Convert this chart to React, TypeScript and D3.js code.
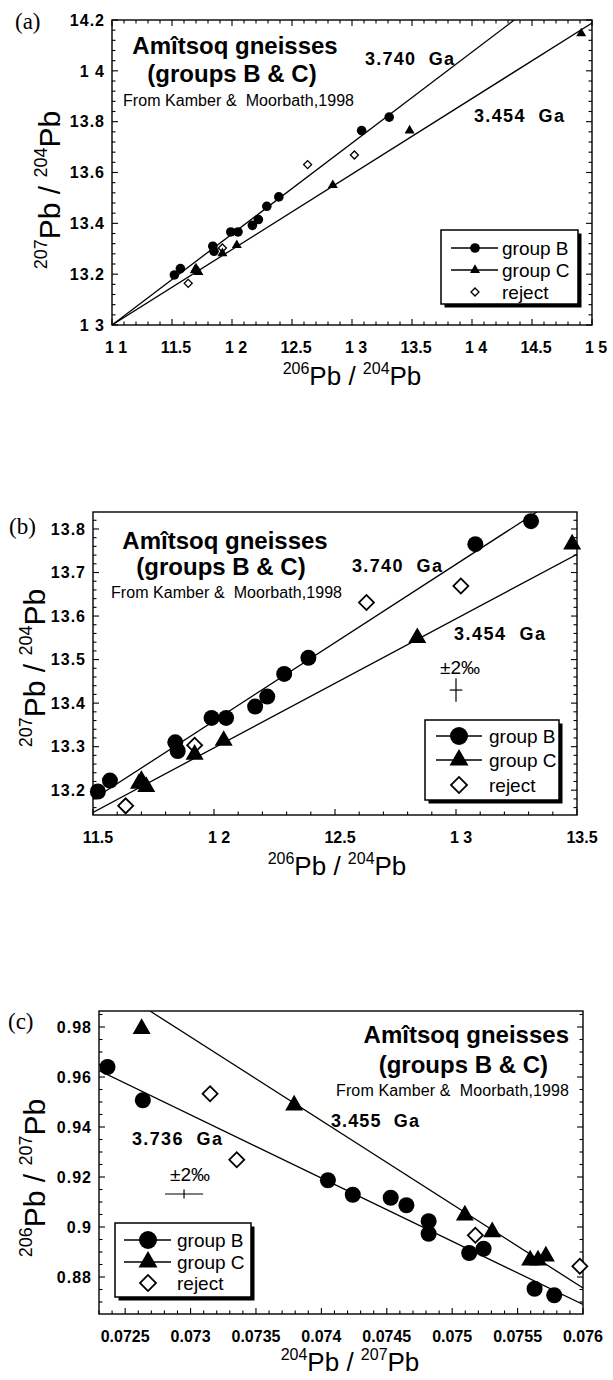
import React from "react";
import * as d3 from "d3";

type Pt = [number, number];

// ================= DATA =================
// Panels (a) and (b): 206Pb/204Pb (x) vs 207Pb/204Pb (y)
const groupBx = [11.52, 11.57, 11.84, 11.85, 11.99, 12.05, 12.17, 12.22, 12.29, 12.39, 13.08, 13.31];
const groupBy = [13.197, 13.222, 13.31, 13.29, 13.366, 13.366, 13.392, 13.415, 13.467, 13.504, 13.765, 13.818];
const groupCx = [11.69, 11.72, 11.7, 11.92, 12.04, 12.84, 13.48, 14.91];
const groupCy = [13.215, 13.208, 13.222, 13.282, 13.314, 13.55, 13.765, 14.147];
const rejectx = [11.635, 11.92, 12.63, 13.02];
const rejecty = [13.164, 13.303, 13.631, 13.669];

// Panel (c): 204Pb/207Pb (x) vs 206Pb/207Pb (y)
const cGroupBx = [0.072365, 0.072635, 0.07405, 0.07424, 0.07453, 0.07465, 0.07482, 0.07482, 0.07513, 0.07524, 0.07563, 0.07578];
const cGroupBy = [0.964, 0.9507, 0.9187, 0.9129, 0.9117, 0.9087, 0.9023, 0.8973, 0.8896, 0.8913, 0.8753, 0.8727];
const cGroupCx = [0.072626, 0.073792, 0.075097, 0.075306, 0.075596, 0.075656, 0.075716];
const cGroupCy = [0.9793, 0.9487, 0.9047, 0.898, 0.8867, 0.8867, 0.8883];
const cRejectx = [0.073149, 0.073353, 0.075177, 0.075976];
const cRejecty = [0.9533, 0.9269, 0.8967, 0.8843];

// Isochron end points (data units)
const isoA_B: Pt[] = [[11.0, 13.0], [14.352, 14.2]];
const isoA_C: Pt[] = [[11.0, 13.0], [15.0, 14.188]];
const isoB_B: Pt[] = [[11.5, 13.179], [13.334, 13.839]];
const isoB_C: Pt[] = [[11.5, 13.149], [13.5, 13.742]];
const isoC_B: Pt[] = [[0.0723, 0.9626], [0.076, 0.869]];
const isoC_C: Pt[] = [[0.07269, 0.9864], [0.076, 0.8756]];

// Error crosses (±2 per mil)
const errRel = 0.002;
const errCenterB: Pt = [13.0, 13.43];
const errCenterC: Pt = [0.07295, 0.9132];

// Axis ticks and labels
const aXTicks = [11, 11.5, 12, 12.5, 13, 13.5, 14, 14.5, 15];
const aXLabels = ["1 1", "11.5", "1 2", "12.5", "1 3", "13.5", "1 4", "14.5", "1 5"];
const aYTicks = [13, 13.2, 13.4, 13.6, 13.8, 14, 14.2];
const aYLabels = ["1 3", "13.2", "13.4", "13.6", "13.8", "1 4", "14.2"];
const bXTicks = [11.5, 12, 12.5, 13, 13.5];
const bXLabels = ["11.5", "1 2", "12.5", "1 3", "13.5"];
const bYTicks = [13.2, 13.3, 13.4, 13.5, 13.6, 13.7, 13.8];
const bYLabels = ["13.2", "13.3", "13.4", "13.5", "13.6", "13.7", "13.8"];
const cXTicks = [0.0725, 0.073, 0.0735, 0.074, 0.0745, 0.075, 0.0755, 0.076];
const cXLabels = ["0.0725", "0.073", "0.0735", "0.074", "0.0745", "0.075", "0.0755", "0.076"];
const cYTicks = [0.88, 0.9, 0.92, 0.94, 0.96, 0.98];
const cYLabels = ["0.88", "0.9", "0.92", "0.94", "0.96", "0.98"];

const legendLabels = ["group B", "group C", "reject"];
const titleLine1 = "Amîtsoq gneisses";
const titleLine2 = "(groups B & C)";
const sourceText = "From Kamber &  Moorbath,1998";

// ================= DRAWING =================
const SANS = "'Liberation Sans', Arial, Helvetica, sans-serif";
const SERIF = "'Liberation Serif', 'Times New Roman', serif";

const zip = (xs: number[], ys: number[]): Pt[] => xs.map((v, i) => [v, ys[i]]);

function tri(cx: number, cy: number, side: number) {
  const area = (side * side * Math.sqrt(3)) / 4;
  return <path d={d3.symbol(d3.symbolTriangle, area)() || ""} transform={`translate(${cx},${cy})`} fill="#000" />;
}
function dia(cx: number, cy: number, half: number, sw: number) {
  const area = 2 * half * half;
  return (
    <path
      d={d3.symbol(d3.symbolSquare, area)() || ""}
      transform={`translate(${cx},${cy}) rotate(45)`}
      fill="#fff"
      stroke="#000"
      strokeWidth={sw}
    />
  );
}

interface TextItem { t: string; x: number; y: number; anchor?: string; size: number; bold?: boolean; len?: number }

interface Cfg {
  id: string;
  tag: string; tagX: number; tagY: number;
  left: number; right: number; top: number; bottom: number;
  xDomain: [number, number]; yDomain: [number, number];
  xTicks: number[]; xLabels: string[]; yTicks: number[]; yLabels: string[];
  xMinor: number; yMinor: number; labelDx: number; topTicks: boolean;
  B: Pt[]; C: Pt[]; R: Pt[]; isoB: Pt[]; isoC: Pt[];
  r: number; side: number; half: number; dsw: number;
  leg: { x: number; y: number; w: number; h: number; mx: number; tx: number; l1: number; l2: number; rows: number[]; r: number; side: number; half: number; dsw: number };
  texts: TextItem[];
  err?: { c: Pt; label: TextItem };
  xTitle: { x: number; y: number; sup1: string; sup2: string };
  yTitle: { x: number; y: number; sup1: string; sup2: string };
}

function AxisTitle({ x, y, sup1, sup2, rotate, big, small }: { x: number; y: number; sup1: string; sup2: string; rotate?: boolean; big: number; small: number }) {
  const rise = Math.round(big * 0.42);
  return (
    <text
      transform={rotate ? `translate(${x},${y}) rotate(-90)` : `translate(${x},${y})`}
      textAnchor="middle"
      fontFamily={SANS}
      fill="#000"
      style={{ whiteSpace: "pre" }}
    >
      <tspan fontSize={small} dy={-rise}>{sup1}</tspan>
      <tspan fontSize={big} dy={rise}>{"Pb / "}</tspan>
      <tspan fontSize={small} dy={-rise}>{sup2}</tspan>
      <tspan fontSize={big} dy={rise}>{"Pb"}</tspan>
    </text>
  );
}

function Panel({ c }: { c: Cfg }) {
  const x = d3.scaleLinear().domain(c.xDomain).range([c.left, c.right]);
  const y = d3.scaleLinear().domain(c.yDomain).range([c.bottom, c.top]);
  const line = d3.line<Pt>().x((d) => x(d[0])).y((d) => y(d[1]));
  const inX = (v: number) => v >= c.xDomain[0] - 1e-9 && v <= c.xDomain[1] + 1e-9;
  const inY = (v: number) => v >= c.yDomain[0] - 1e-9 && v <= c.yDomain[1] + 1e-9;
  const minorX = d3.range(Math.ceil(c.xDomain[0] / c.xMinor - 1e-6), Math.floor(c.xDomain[1] / c.xMinor + 1e-6) + 1).map((k) => k * c.xMinor);
  const minorY = d3.range(Math.ceil(c.yDomain[0] / c.yMinor - 1e-6), Math.floor(c.yDomain[1] / c.yMinor + 1e-6) + 1).map((k) => k * c.yMinor);
  const isMajor = (v: number, arr: number[], step: number) => arr.some((t) => Math.abs(t - v) < step * 0.1);
  const MAJ = 6, MIN = 3.5;
  const clipId = `clip-${c.id}`;
  const L = c.leg;
  return (
    <g>
      <defs>
        <clipPath id={clipId}>
          <rect x={c.left} y={c.top} width={c.right - c.left} height={c.bottom - c.top} />
        </clipPath>
      </defs>
      {/* tag */}
      <text x={c.tagX} y={c.tagY} fontFamily={SERIF} fontSize={23} fill="#000">{c.tag}</text>
      {/* frame */}
      <rect x={c.left} y={c.top} width={c.right - c.left} height={c.bottom - c.top} fill="none" stroke="#000" strokeWidth={1.4} />
      {/* ticks */}
      {minorX.map((v, i) => {
        const len = isMajor(v, c.xTicks, c.xMinor) ? MAJ : MIN;
        const px = x(v);
        return (
          <g key={"tx" + i}>
            <line x1={px} x2={px} y1={c.bottom} y2={c.bottom - len} stroke="#000" strokeWidth={1.1} />
            {c.topTicks && <line x1={px} x2={px} y1={c.top} y2={c.top + len} stroke="#000" strokeWidth={1.1} />}
          </g>
        );
      })}
      {minorY.map((v, i) => {
        const len = isMajor(v, c.yTicks, c.yMinor) ? MAJ : MIN;
        const py = y(v);
        return (
          <g key={"ty" + i}>
            <line x1={c.left} x2={c.left + len} y1={py} y2={py} stroke="#000" strokeWidth={1.1} />
            <line x1={c.right} x2={c.right - len} y1={py} y2={py} stroke="#000" strokeWidth={1.1} />
          </g>
        );
      })}
      {/* tick labels */}
      {c.xTicks.map((v, i) => (
        <text key={"lx" + i} x={x(v) + c.labelDx} y={c.bottom + 28} textAnchor="middle" fontFamily={SANS} fontWeight="bold" fontSize={16} fill="#000" style={{ whiteSpace: "pre" }}>
          {c.xLabels[i]}
        </text>
      ))}
      {c.yTicks.map((v, i) => (
        <text key={"ly" + i} x={c.left - 7} y={y(v)} dy="0.36em" textAnchor="end" fontFamily={SANS} fontWeight="bold" fontSize={16} letterSpacing={1} fill="#000" style={{ whiteSpace: "pre" }}>
          {c.yLabels[i]}
        </text>
      ))}
      {/* axis titles */}
      <AxisTitle x={c.xTitle.x} y={c.xTitle.y} sup1={c.xTitle.sup1} sup2={c.xTitle.sup2} big={26} small={16} />
      <AxisTitle x={c.yTitle.x} y={c.yTitle.y} sup1={c.yTitle.sup1} sup2={c.yTitle.sup2} rotate big={30} small={18} />
      {/* isochrons */}
      <g clipPath={`url(#${clipId})`}>
        <path d={line(c.isoB) || ""} fill="none" stroke="#000" strokeWidth={1.3} />
        <path d={line(c.isoC) || ""} fill="none" stroke="#000" strokeWidth={1.3} />
      </g>
      {/* texts */}
      {c.texts.map((t, i) => (
        <text
          key={"t" + i}
          x={t.x}
          y={t.y}
          textAnchor={t.anchor || "start"}
          fontFamily={SANS}
          fontWeight={t.bold ? "bold" : "normal"}
          fontSize={t.size}
          fill="#000"
          style={{ whiteSpace: "pre" }}
          {...(t.len ? { textLength: t.len, lengthAdjust: "spacing" } : {})}
        >
          {t.t}
        </text>
      ))}
      {/* error cross */}
      {c.err && (
        <g>
          <line x1={x(c.err.c[0] * (1 - errRel))} x2={x(c.err.c[0] * (1 + errRel))} y1={y(c.err.c[1])} y2={y(c.err.c[1])} stroke="#000" strokeWidth={1.2} />
          <line x1={x(c.err.c[0])} x2={x(c.err.c[0])} y1={y(c.err.c[1] * (1 - errRel))} y2={y(c.err.c[1] * (1 + errRel))} stroke="#000" strokeWidth={1.2} />
          <text x={c.err.label.x} y={c.err.label.y} textAnchor="middle" fontFamily={SANS} fontSize={c.err.label.size} fill="#000">
            {c.err.label.t}
          </text>
        </g>
      )}
      {/* points */}
      <g>
        {c.R.filter((d) => inX(d[0]) && inY(d[1])).map((d, i) => <g key={"r" + i}>{dia(x(d[0]), y(d[1]), c.half, c.dsw)}</g>)}
        {c.B.filter((d) => inX(d[0]) && inY(d[1])).map((d, i) => <circle key={"b" + i} cx={x(d[0])} cy={y(d[1])} r={c.r} fill="#000" />)}
        {c.C.filter((d) => inX(d[0]) && inY(d[1])).map((d, i) => <g key={"c" + i}>{tri(x(d[0]), y(d[1]), c.side)}</g>)}
      </g>
      {/* legend */}
      <g>
        <rect x={L.x + 3.5} y={L.y + 3.5} width={L.w} height={L.h} fill="#000" />
        <rect x={L.x} y={L.y} width={L.w} height={L.h} fill="#fff" stroke="#000" strokeWidth={1.5} />
        <line x1={L.l1} x2={L.l2} y1={L.rows[0]} y2={L.rows[0]} stroke="#000" strokeWidth={1.3} />
        <circle cx={L.mx} cy={L.rows[0]} r={L.r} fill="#000" />
        <line x1={L.l1} x2={L.l2} y1={L.rows[1]} y2={L.rows[1]} stroke="#000" strokeWidth={1.3} />
        {tri(L.mx, L.rows[1], L.side)}
        {dia(L.mx, L.rows[2], L.half, L.dsw)}
        {legendLabels.map((s, i) => (
          <text key={"lg" + i} x={L.tx} y={L.rows[i] + 7} fontFamily={SANS} fontSize={19} fill="#000">
            {s}
          </text>
        ))}
      </g>
    </g>
  );
}

const panelA: Cfg = {
  id: "a", tag: "(a)", tagX: 15, tagY: 29,
  left: 112, right: 592, top: 20, bottom: 325,
  xDomain: [11, 15], yDomain: [13, 14.2],
  xTicks: aXTicks, xLabels: aXLabels, yTicks: aYTicks, yLabels: aYLabels,
  xMinor: 0.1, yMinor: 0.04, labelDx: 4, topTicks: true,
  B: zip(groupBx, groupBy), C: zip(groupCx, groupCy), R: zip(rejectx, rejecty),
  isoB: isoA_B, isoC: isoA_C,
  r: 4.8, side: 10, half: 4, dsw: 1.3,
  leg: { x: 441, y: 230, w: 137, h: 74, mx: 475, tx: 502, l1: 451, l2: 498, rows: [248, 270, 292], r: 4.8, side: 10, half: 4, dsw: 1.3 },
  texts: [
    { t: titleLine1, x: 235, y: 54, anchor: "middle", size: 24, bold: true },
    { t: titleLine2, x: 232, y: 82, anchor: "middle", size: 24, bold: true },
    { t: sourceText, x: 123, y: 106, size: 16, len: 231 },
    { t: "3.740  Ga", x: 365, y: 65, size: 18, bold: true, len: 89 },
    { t: "3.454  Ga", x: 474, y: 122, size: 18, bold: true, len: 90 },
  ],
  xTitle: { x: 352, y: 385, sup1: "206", sup2: "204" },
  yTitle: { x: 60, y: 190, sup1: "207", sup2: "204" },
};

const panelB: Cfg = {
  id: "b", tag: "(b)", tagX: 9, tagY: 534,
  left: 93, right: 577, top: 512, bottom: 815,
  xDomain: [11.5, 13.5], yDomain: [13.143, 13.839],
  xTicks: bXTicks, xLabels: bXLabels, yTicks: bYTicks, yLabels: bYLabels,
  xMinor: 0.1, yMinor: 0.02, labelDx: 5, topTicks: false,
  B: zip(groupBx, groupBy), C: zip(groupCx, groupCy), R: zip(rejectx, rejecty),
  isoB: isoB_B, isoC: isoB_C,
  r: 8, side: 18, half: 7.5, dsw: 1.8,
  leg: { x: 425, y: 720, w: 134, h: 80, mx: 459, tx: 489, l1: 436, l2: 482, rows: [736, 760, 785], r: 9, side: 19, half: 8, dsw: 1.8 },
  texts: [
    { t: titleLine1, x: 225, y: 549, anchor: "middle", size: 24, bold: true },
    { t: titleLine2, x: 221, y: 575, anchor: "middle", size: 24, bold: true },
    { t: sourceText, x: 111, y: 598, size: 16, len: 231 },
    { t: "3.740  Ga", x: 352, y: 572, size: 18, bold: true, len: 90 },
    { t: "3.454  Ga", x: 454, y: 640, size: 18, bold: true, len: 91 },
  ],
  err: { c: errCenterB, label: { t: "±2‰", x: 460, y: 674, size: 19 } },
  xTitle: { x: 337, y: 875, sup1: "206", sup2: "204" },
  yTitle: { x: 45, y: 668, sup1: "207", sup2: "204" },
};

const panelC: Cfg = {
  id: "c", tag: "(c)", tagX: 8, tagY: 1029,
  left: 99, right: 583, top: 1011, bottom: 1314,
  xDomain: [0.0723, 0.076], yDomain: [0.8652, 0.9864],
  xTicks: cXTicks, xLabels: cXLabels, yTicks: cYTicks, yLabels: cYLabels,
  xMinor: 0.0001, yMinor: 0.005, labelDx: 0, topTicks: false,
  B: zip(cGroupBx, cGroupBy), C: zip(cGroupCx, cGroupCy), R: zip(cRejectx, cRejecty),
  isoB: isoC_B, isoC: isoC_C,
  r: 8, side: 18, half: 7.5, dsw: 1.8,
  leg: { x: 115, y: 1223, w: 136, h: 74, mx: 148, tx: 177, l1: 124, l2: 171, rows: [1240, 1262, 1283], r: 9, side: 19, half: 8, dsw: 1.8 },
  texts: [
    { t: titleLine1, x: 569, y: 1043, anchor: "end", size: 24, bold: true },
    { t: titleLine2, x: 548, y: 1073, anchor: "end", size: 24, bold: true },
    { t: sourceText, x: 336, y: 1096, size: 16, len: 233 },
    { t: "3.455  Ga", x: 331, y: 1127, size: 18, bold: true, len: 88 },
    { t: "3.736  Ga", x: 132, y: 1145, size: 18, bold: true, len: 90 },
  ],
  err: { c: errCenterC, label: { t: "±2‰", x: 190, y: 1181, size: 19 } },
  xTitle: { x: 350, y: 1371, sup1: "204", sup2: "207" },
  yTitle: { x: 45, y: 1178, sup1: "206", sup2: "207" },
};

export default function App() {
  return (
    <svg
      width={613}
      height={1380}
      viewBox="0 0 613 1380"
      style={{ position: "absolute", left: 0, top: 0, background: "#fff", display: "block" }}
    >
      <rect x={0} y={0} width={613} height={1380} fill="#fff" />
      <Panel c={panelA} />
      <Panel c={panelB} />
      <Panel c={panelC} />
    </svg>
  );
}
